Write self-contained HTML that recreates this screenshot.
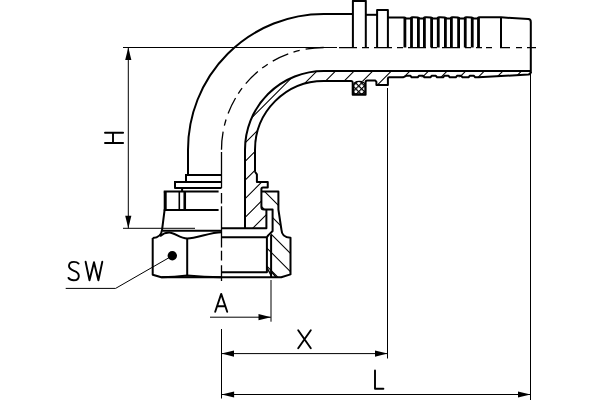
<!DOCTYPE html>
<html><head><meta charset="utf-8"><title>Elbow fitting</title>
<style>html,body{margin:0;padding:0;background:#fff;width:600px;height:400px;overflow:hidden;font-family:"Liberation Sans",sans-serif}svg{display:block}</style>
</head><body>
<svg width="600" height="400" viewBox="0 0 600 400">
<defs><clipPath id="ct"><path d="M 531 71.2 H 323.7 A 78.7 78.7 0 0 0 245.0 149.7 V 228.2 H 266.4 V 209.6 H 261.4 V 187.5 H 267.75 V 181.9 H 256.9 V 174.4 L 255.0 171.75 V 149.7 A 68.7 68.7 0 0 1 323.7 81 H 376.1 V 85.1 H 387.9 V 77.3 H 478.5 L 528.5 74.5 L 531 72 Z"/></clipPath><clipPath id="cn"><path d="M 261.4 191.4 H 278.4 V 209.5 L 281.4 229.5 Q 281.8 237.5 290.5 237.8 V 274.4 L 281.25 277.3 H 276 L 271 271.5 H 266.9 V 237.2 L 268.2 235.4 L 272.6 231 V 209.6 H 264 Q 261.4 209.6 261.4 207 Z"/></clipPath><pattern id="xh" patternUnits="userSpaceOnUse" width="4.1" height="4.1" patternTransform="rotate(45 359 88)"><rect width="4.1" height="4.1" fill="#fff"/><path d="M0 0.6H4.1M0.6 0V4.1" stroke="#000" stroke-width="1.2"/></pattern></defs>
<rect width="600" height="400" fill="#fff"/>
<g fill="none" stroke="#000" stroke-linecap="butt" stroke-linejoin="round">
<path clip-path="url(#ct)" d="M 332.2 0 L -67.8 400 M 350.8 0 L -49.2 400 M 369.4 0 L -30.6 400 M 388.0 0 L -12.0 400 M 406.6 0 L 6.6 400 M 425.2 0 L 25.2 400 M 443.8 0 L 43.8 400 M 462.4 0 L 62.4 400 M 481.0 0 L 81.0 400 M 499.6 0 L 99.6 400 M 518.2 0 L 118.2 400 M 536.8 0 L 136.8 400 M 555.4 0 L 155.4 400 M 574.0 0 L 174.0 400 M 592.6 0 L 192.6 400 M 611.2 0 L 211.2 400 M 629.8 0 L 229.8 400" stroke-width="1.05"/>
<path clip-path="url(#cn)" d="M 127.4 0 L 527.4 400 M 109.3 0 L 509.3 400 M 91.2 0 L 491.2 400 M 73.1 0 L 473.1 400 M 55 0 L 455.0 400 M 36.9 0 L 436.9 400 M 18.8 0 L 418.8 400 M 0.7 0 L 400.7 400 M -17.4 0 L 382.6 400 M -35.5 0 L 364.5 400 M -53.6 0 L 346.4 400" stroke-width="1.05"/>
<path d="M 188 175 V 149.7 A 135.7 135.7 0 0 1 323.7 14.0 H 352.9" stroke-width="2.0" />
<path d="M 352.9 47.5 V 0.9 H 365.8 V 47.5" stroke-width="2.0" />
<path d="M 365.8 14.8 H 377.1" stroke-width="2.0" />
<path d="M 377.1 47.5 V 10 H 387.9 V 47.5" stroke-width="2.0" />
<path d="M 387.9 17.5 H 403.5 Q 404.9 17.2 405.9 18.4 H 410.5 Q 411.5 17.2 412.7 17.3 Q 418.4 17.2 419.4 18.4 H 423.4 Q 424.4 17.2 425.6 17.3 Q 431.6 17.2 432.6 18.4 H 437.25 Q 438.25 17.2 439.45 17.3 Q 445.4 17.2 446.4 18.4 H 450.4 Q 451.4 17.2 452.6 17.3 Q 458.6 17.2 459.6 18.4 H 464.25 Q 465.25 17.2 466.45 17.3 Q 472.25 17.2 473.25 18.4 H 477.5 Q 478.5 17.2 479.7 17.3 H 501 L 528.3 19.1 Q 530.8 19.3 530.8 22 V 73" stroke-width="2.0" />
<path d="M 501 17.5 V 47.5" stroke-width="2.0" />
<line x1="404.9" y1="17.5" x2="404.9" y2="47.5" stroke-width="2.8" />
<line x1="411.5" y1="17.5" x2="411.5" y2="47.5" stroke-width="2.8" />
<line x1="418.4" y1="17.5" x2="418.4" y2="47.5" stroke-width="2.8" />
<line x1="424.4" y1="17.5" x2="424.4" y2="47.5" stroke-width="2.8" />
<line x1="431.6" y1="17.5" x2="431.6" y2="47.5" stroke-width="2.8" />
<line x1="438.25" y1="17.5" x2="438.25" y2="47.5" stroke-width="2.8" />
<line x1="445.4" y1="17.5" x2="445.4" y2="47.5" stroke-width="2.8" />
<line x1="451.4" y1="17.5" x2="451.4" y2="47.5" stroke-width="2.8" />
<line x1="458.6" y1="17.5" x2="458.6" y2="47.5" stroke-width="2.8" />
<line x1="465.25" y1="17.5" x2="465.25" y2="47.5" stroke-width="2.8" />
<line x1="472.25" y1="17.5" x2="472.25" y2="47.5" stroke-width="2.8" />
<line x1="478.5" y1="17.5" x2="478.5" y2="47.5" stroke-width="2.8" />
<path d="M 245.0 228.2 V 149.7 A 78.7 78.7 0 0 1 323.7 71 H 530.8" stroke-width="2.0" />
<path d="M 255.0 171.75 V 149.7 A 68.7 68.7 0 0 1 323.7 81 H 351.3 Q 352.7 81 352.7 82.5 V 94.7 H 365.6 V 82.3 Q 365.6 80.6 367.2 80.6 H 375.4 L 376.4 81.8 V 85.1 H 387.9 V 78.6 Q 387.9 77.3 389.3 77.3 H 403 L 406.2 75.8 H 410.5 L 411.7 77.3 H 417.7 L 418.9 75.8 H 423.2 L 424.4 77.3 H 430.4 L 431.6 75.8 H 435.9 L 437.1 77.3 H 443.1 L 444.3 75.8 H 448.6 L 449.8 77.3 H 455.8 L 457.0 75.8 H 461.3 L 462.5 77.3 H 468.5 L 469.7 75.8 H 474.0 L 475.2 77.3 H 481.2 L 478.5 77.3 L 528.3 74.6 Q 530.8 74.2 530.8 72" stroke-width="2.0" />
<path d="M 255.0 171.75 L 256.9 174.4 V 181.9 H 267.75 V 187.5 H 263 Q 261.4 187.5 261.4 189.1 V 207 Q 261.4 209.6 264 209.6 H 272.6 V 231 L 268.2 235.4 L 266.9 237.2" stroke-width="2.0" />
<path d="M 266.4 209.6 V 228.2 H 221.5" stroke-width="2.0" />
<path d="M 261.4 191.4 H 278.4 V 209.5 L 281.4 229.5 Q 281.8 237.5 290.5 237.8 V 274.4 L 281.25 277.3 H 161.3 L 152.7 274.7 V 238" stroke-width="2.0" />
<path d="M 221.5 237.2 H 266.9 V 272.25 H 221.5" stroke-width="2.0" />
<path d="M 271.1 234.8 V 277.3" stroke-width="2.0" />
<path d="M 266.8 267.4 L 271 275.2 M 271 271.3 L 276.2 277.3" stroke-width="1.4" />
<path d="M 186 175 H 221.5" stroke-width="2.0" />
<path d="M 186 174 V 182" stroke-width="2.0" />
<path d="M 175 182 H 221.5" stroke-width="2.0" />
<path d="M 175 181 V 188 H 221.5" stroke-width="2.0" />
<path d="M 182.1 188 V 191.5" stroke-width="2.0" />
<path d="M 163.75 191.5 H 218.6" stroke-width="2.0" />
<line x1="165.2" y1="191.5" x2="165.2" y2="209.9" stroke-width="3" />
<line x1="179.3" y1="191.5" x2="179.3" y2="209.9" stroke-width="1.6" />
<line x1="184.75" y1="191.5" x2="184.75" y2="209.9" stroke-width="2.6" />
<path d="M 163.75 209.9 H 218.6" stroke-width="2.0" />
<path d="M 164.6 209.9 L 162.1 229.5 Q 161.3 237.6 152.7 238" stroke-width="2.0" />
<path d="M 162.2 230.8 H 221.5" stroke-width="2.0" />
<path d="M 160 236.2 C 163.5 233.2 166 232.6 169.2 232.6 C 174.5 232.6 180 238.5 187.2 238.5 C 197 238.5 210 232.2 221.5 232.2" stroke-width="2.0" />
<path d="M 187.2 238.5 V 275.5" stroke-width="2.0" />
<path d="M 161.3 277.3 Q 175 277.3 187.2 275.5 Q 204 277.3 221.5 277.3" stroke-width="2.0" />
<path d="M 353.6 94 V 85.5 Q 353.6 81.3 359.3 81.3 Q 365 81.3 365 85.5 V 94 Z" fill="url(#xh)" stroke-width="1.3"/>
<path d="M 323.70 47.50 A 102.2 102.2 0 0 0 305.60 49.12 M 299.67 50.37 A 102.2 102.2 0 0 0 293.48 52.07 M 288.24 53.85 A 102.2 102.2 0 0 0 272.75 61.10 M 267.74 64.18 A 102.2 102.2 0 0 0 262.19 68.08 M 257.87 71.53 A 102.2 102.2 0 0 0 245.76 83.60 M 242.08 88.19 A 102.2 102.2 0 0 0 238.28 93.59 M 235.55 97.98 A 102.2 102.2 0 0 0 228.10 113.57 M 226.07 119.48 A 102.2 102.2 0 0 0 224.37 125.67 M 223.12 131.60 A 102.2 102.2 0 0 0 221.50 149.70 M 221.5 152 V 188 M 221.5 193 V 203.5 M 221.5 206.3 V 247.4 M 221.5 250.8 V 260.4 M 221.5 265.3 V 281 M 339 47.6 H 357 M 362 47.6 H 369 M 374 47.6 H 392 M 397 47.6 H 403 M 408 47.6 H 426 M 431 47.6 H 437 M 442 47.6 H 460 M 465 47.6 H 471 M 476 47.6 H 482 M 486 47.6 H 492 M 500 47.6 H 510 M 516 47.6 H 522 M 527 47.6 H 536" stroke-width="1.3" />
<line x1="123" y1="47.5" x2="337" y2="47.5" stroke-width="1.0" />
<line x1="123" y1="228.3" x2="195" y2="228.3" stroke-width="1.0" />
<line x1="128.3" y1="47.5" x2="128.3" y2="228.3" stroke-width="1.0" />
<path d="M 128.3 47.5 L 131.40 60.00 L 125.20 60.00 Z" stroke="none" fill="#000"/>
<path d="M 128.3 228.3 L 125.20 215.80 L 131.40 215.80 Z" stroke="none" fill="#000"/>
<line x1="210" y1="317.2" x2="270.8" y2="317.2" stroke-width="1.0" />
<path d="M 271.0 317.2 L 258.50 320.30 L 258.50 314.10 Z" stroke="none" fill="#000"/>
<line x1="271.0" y1="280" x2="271.0" y2="321.7" stroke-width="1.0" />
<line x1="221.5" y1="353.6" x2="387.5" y2="353.6" stroke-width="1.0" />
<path d="M 221.5 353.6 L 234.00 350.50 L 234.00 356.70 Z" stroke="none" fill="#000"/>
<path d="M 387.5 353.6 L 375.00 356.70 L 375.00 350.50 Z" stroke="none" fill="#000"/>
<line x1="387.5" y1="88" x2="387.5" y2="358.5" stroke-width="1.0" />
<line x1="221.6" y1="394.5" x2="530.5" y2="394.5" stroke-width="1.0" />
<path d="M 221.6 394.5 L 234.10 391.40 L 234.10 397.60 Z" stroke="none" fill="#000"/>
<path d="M 530.5 394.5 L 518.00 397.60 L 518.00 391.40 Z" stroke="none" fill="#000"/>
<line x1="530.5" y1="73" x2="530.5" y2="400" stroke-width="1.0" />
<line x1="221.5" y1="329" x2="221.5" y2="398.5" stroke-width="1.0" />
<path d="M 65.7 288.4 H 115.6 L 172.3 255.8" stroke-width="1.0" />
<circle cx="172.3" cy="255.8" r="4.7" fill="#000" stroke="none"/>
<path d="M 78.6 263.6 C 77.5 262.4 75.8 261.9 73.9 261.9 C 70.9 261.9 69.0 263.6 69.0 266.1 C 69.0 268.8 71.2 269.8 74.0 270.8 C 76.9 271.8 78.8 273.1 78.8 275.9 C 78.8 278.6 76.6 280.2 73.7 280.2 C 71.4 280.2 69.5 279.4 68.5 277.9" stroke-width="1.9" stroke-linecap="round"/>
<path d="M 85.6 261.8 L 89.5 280.3 L 94.0 262.2 L 98.4 280.3 L 102.3 261.8" stroke-width="1.9" stroke-linecap="round"/>
<path d="M 105.0 132.8 H 123.1 M 105.0 143.0 H 123.1 M 113.0 132.8 V 143.0" stroke-width="1.9" stroke-linecap="round"/>
<path d="M 215.2 311.8 L 221.2 293.9 L 227.2 311.8 M 217.3 306.2 H 225.1" stroke-width="1.9" stroke-linecap="round"/>
<path d="M 298.2 330.2 L 310.8 348.2 M 310.8 330.2 L 298.2 348.2" stroke-width="1.9" stroke-linecap="round"/>
<path d="M 375.0 370.4 V 388.8 H 383.4" stroke-width="1.9" stroke-linecap="round"/>
</g></svg>
</body></html>
